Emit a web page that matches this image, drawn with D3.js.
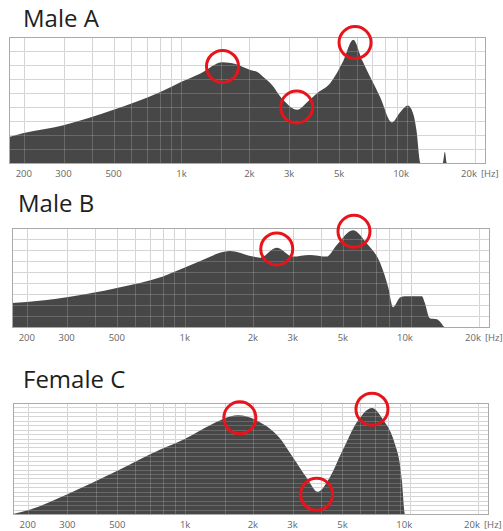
<!DOCTYPE html>
<html>
<head>
<meta charset="utf-8">
<script src="https://cdn.jsdelivr.net/npm/d3@7"></script>
<style>
  body { margin: 0; background: #fff; }
  svg { display: block; }
</style>
</head>
<body>
<div id="chart"></div>
<script>
// Spectrum envelopes: [frequency Hz, level (grid units, 0-90)]
const maleA = [
  [172, 18.6], [200, 21.4], [300, 27], [500, 38], [806, 50.7], [1000, 58],
  [1214, 64], [1520, 72], [1734, 70.7], [2020, 66.4], [2170, 65], [2306, 61.4],
  [2478, 57], [2828, 45], [3260, 38], [3612, 43.6], [4000, 50], [4560, 57],
  [5220, 73], [5770, 88], [6340, 73], [7600, 47], [8580, 29], [9300, 36],
  [10080, 41], [10700, 34], [11000, 23.6], [11460, 0], [14400, 0], [14700, 8],
  [15000, 0], [22150, 0]
];
const maleB = [
  [172, 21.8], [200, 22.7], [300, 27], [500, 35.5], [800, 46], [1000, 54],
  [1170, 60], [1580, 69], [2000, 64], [2150, 63], [2550, 72], [3000, 64],
  [3560, 65.5], [4240, 64], [4700, 74.5], [5540, 88], [6380, 76], [7320, 58],
  [7940, 36], [8340, 18], [8980, 27], [9440, 28], [11190, 28], [11520, 22],
  [12120, 8], [13020, 7], [13430, 5], [14120, 0], [22150, 0]
];
const femaleC = [
  [172, 0], [200, 3], [300, 16], [500, 35], [772, 52], [1000, 61],
  [1290, 72], [1716, 80], [2140, 74.6], [2630, 61.6], [3010, 46], [3480, 29],
  [3880, 18], [4370, 29], [5020, 52], [5800, 74.6], [6760, 86], [7540, 77],
  [8540, 57], [9000, 40], [9180, 27], [9470, 0], [22150, 0]
];

// Red circle markers: [frequency Hz, level]
const circlesA = [[1520, 69], [3240, 40], [5880, 86]];
const circlesB = [[2550, 71], [5600, 87]];
const circlesC = [[1750, 78], [3840, 16], [6760, 85]];

const titles = ["Male A", "Male B", "Female C"];
const tickFreqs = [200, 300, 500, 1000, 2000, 3000, 5000, 10000, 20000];
const tickLabels = ["200", "300", "500", "1k", "2k", "3k", "5k", "10k", "20k"];
const gridFreqs = [200, 300, 400, 500, 600, 700, 800, 900, 1000, 1500, 2000,
  3000, 4000, 5000, 6000, 7000, 8000, 9000, 10000, 20000];
const unitLabel = "[Hz]";

const width = 503, height = 531;

// Panel frames (pixel layout)
const panels = [
  { title: titles[0], data: maleA, circles: circlesA, left: 9, right: 485, top: 37, bottom: 163, titleY: 27, hSteps: 9 },
  { title: titles[1], data: maleB, circles: circlesB, left: 12, right: 489, top: 228, bottom: 327, titleY: 212, hSteps: 9 },
  { title: titles[2], data: femaleC, circles: circlesC, left: 13, right: 488, top: 403, bottom: 514, titleY: 388, hSteps: 25 }
];

const svg = d3.create("svg")
  .attr("width", width)
  .attr("height", height)
  .attr("viewBox", [0, 0, width, height]);

panels.forEach((p, i) => {
  const x = d3.scaleLog().domain([172, 22150]).range([p.left, p.right]);
  const y = d3.scaleLinear().domain([0, 90]).range([p.bottom, p.top]);
  const g = svg.append("g");

  // Title
  g.append("text")
    .attr("x", i === 1 ? 18 : 23)
    .attr("y", p.titleY)
    .style("font-family", "'Open Sans', sans-serif")
    .style("font-size", "24px")
    .style("fill", "#1e1e1e")
    .text(p.title);

  const hVals = d3.range(p.hSteps + 1).map(k => k * 90 / p.hSteps);

  // Grid drawn under the fill
  const drawGrid = (stroke, opacity) => {
    const gg = g.append("g").attr("stroke", stroke).attr("stroke-opacity", opacity).attr("stroke-width", 1);
    gg.selectAll(null).data(hVals).join("line")
      .attr("x1", p.left).attr("x2", p.right)
      .attr("y1", d => Math.round(y(d)) + 0.5).attr("y2", d => Math.round(y(d)) + 0.5);
    gg.selectAll(null).data(gridFreqs).join("line")
      .attr("x1", d => Math.round(x(d)) + 0.5).attr("x2", d => Math.round(x(d)) + 0.5)
      .attr("y1", p.top).attr("y2", p.bottom);
  };
  drawGrid("#cccccc", 1);

  // Filled envelope
  const clipId = "clip" + i;
  g.append("clipPath").attr("id", clipId)
    .append("rect")
    .attr("x", p.left).attr("y", p.top)
    .attr("width", p.right - p.left).attr("height", p.bottom - p.top);

  const area = d3.area()
    .x(d => x(d[0]))
    .y0(y(0))
    .y1(d => y(d[1]))
    .curve(d3.curveMonotoneX);

  g.append("path")
    .datum(p.data)
    .attr("clip-path", `url(#${clipId})`)
    .attr("fill", "#474747")
    .attr("d", area);

  // Grid showing through the fill
  drawGrid("#ffffff", 0.18);

  // Frame
  g.append("rect")
    .attr("x", p.left + 0.5).attr("y", p.top + 0.5)
    .attr("width", p.right - p.left).attr("height", p.bottom - p.top)
    .attr("fill", "none")
    .attr("stroke", "#aaaaaa");

  // Tick labels
  g.append("g")
    .style("font-family", "'Open Sans', sans-serif")
    .style("font-size", "9.5px")
    .style("fill", "#666")
    .selectAll("text")
    .data(tickFreqs)
    .join("text")
    .attr("x", d => x(d) - (d >= 10000 ? 6 : 0))
    .attr("y", p.bottom + 14)
    .attr("text-anchor", "middle")
    .text((d, k) => tickLabels[k]);

  g.append("text")
    .attr("x", x(20000) + 6)
    .attr("y", p.bottom + 14)
    .style("font-family", "'Open Sans', sans-serif")
    .style("font-size", "9.5px")
    .style("fill", "#666")
    .text(unitLabel);

  // Red circles
  g.append("g")
    .selectAll("circle")
    .data(p.circles)
    .join("circle")
    .attr("cx", d => x(d[0]))
    .attr("cy", d => y(d[1]))
    .attr("r", 16)
    .attr("fill", "none")
    .attr("stroke", "#e8141b")
    .attr("stroke-width", 3);
});

document.getElementById("chart").appendChild(svg.node());
</script>
</body>
</html>
